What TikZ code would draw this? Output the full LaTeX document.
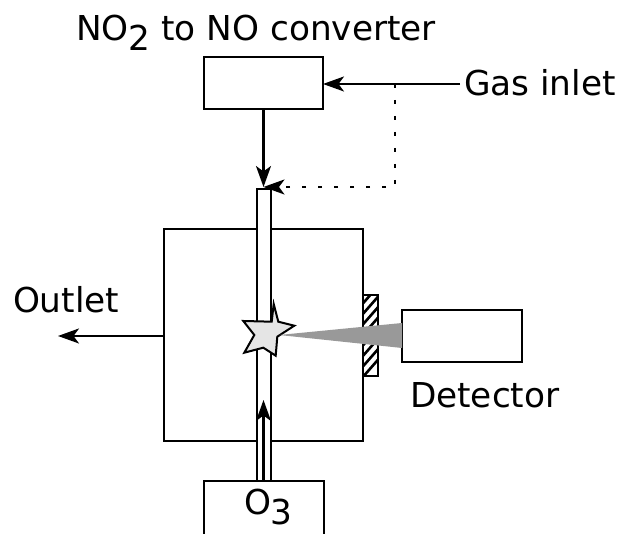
\documentclass[tikz,border=0pt]{standalone}
\usepackage{fontspec}
\setmainfont{DejaVu Sans}
\usetikzlibrary{arrows.meta}
\tikzset{
  boxn/.style={draw=black,line width=1.7pt,fill=white,minimum width=#1,inner sep=0pt,outer sep=0pt},
  flow/.style={line width=2.2pt,-{Stealth[length=21pt,width=15pt,inset=5.5pt]}},
  dotflow/.style={line width=2.2pt,dash pattern=on 4.5pt off 11.5pt,-{Stealth[length=21pt,width=15pt,inset=5.5pt]}},
  lab/.style={inner sep=0pt,outer sep=0pt,font=\fontsize{34.3}{38}\selectfont,anchor=base west,text=black}
}
\newcommand{\lsub}[1]{\raisebox{-10pt}{\fontsize{34.3}{38}\selectfont #1}}
\begin{document}
\begin{tikzpicture}[x=1pt,y=1pt]
\useasboundingbox (0,0) rectangle (622,534);
\begin{scope}
\clip (0,0) rectangle (622,534);
% chamber
\node[boxn=199pt,minimum height=212pt] (chamber) at (263.5,199) {};
% hatched window
\node[boxn=14.5pt,minimum height=81pt] (window) at (370.5,198.5) {};
\begin{scope}
\clip (window.south west) rectangle (window.north east);
\foreach \k in {0,...,10} {
  \draw[line width=2.6pt] (355,148+\k*10.5) -- (390,148+\k*10.5+40);
}
\end{scope}
\draw[line width=1.7pt] (window.south west) rectangle (window.north east);
% boxes
\node[boxn=119pt,minimum height=52pt] (conv) at (263.5,451) {};
\node[boxn=120pt,minimum height=52pt] (det) at (462,198) {};
\node[boxn=120pt,minimum height=53.4pt] (ozone) at (264,26.3) {};
% tube
\node[boxn=14pt,minimum height=292pt] (tube) at (264,199) {};
% star
\path[draw=black,line width=2pt,fill=black!10,line join=miter]
 (273.7,230) -- (278.3,212.3) -- (294.3,208.3) -- (277.3,197.3) -- (275.7,178.3) -- (263.3,186.3)
 -- (244.3,181.3) -- (254.3,199) -- (243.3,213) -- (271.7,212.3) -- cycle;
% beam
\coordinate (beamstart) at (279,199);
\fill[black!40] (beamstart) -- (det.west |- 0,211) -- (det.west |- 0,186) -- cycle;
\end{scope}
% connectors
\coordinate (inletend) at (460,450);
\coordinate (branch) at (395,450);
\coordinate (outletend) at (58,198);
\coordinate (tubein) at (263.5,347);
\coordinate (ozonetip) at (263.5,134);
\draw[flow] (inletend) -- (conv.east |- inletend);
\draw[flow] (conv.south) -- (tubein);
\draw[dotflow] (branch) -- (branch |- tubein) -- (tubein);
\draw[flow] (chamber.west |- outletend) -- (outletend);
\draw[flow] (ozone.north -| ozonetip) -- (ozonetip);
% labels
\node[lab] (convlab) at (76,493) {NO\lsub{2} to NO converter};
\node[lab] (gaslab) at (464,438) {Gas inlet};
\node[lab] (outlab) at (13,221) {Outlet};
\node[lab] (detlab) at (410,126) {Detector};
\node[lab] (o3lab) at (244,19) {O\lsub{3}};
\end{tikzpicture}
\end{document}
